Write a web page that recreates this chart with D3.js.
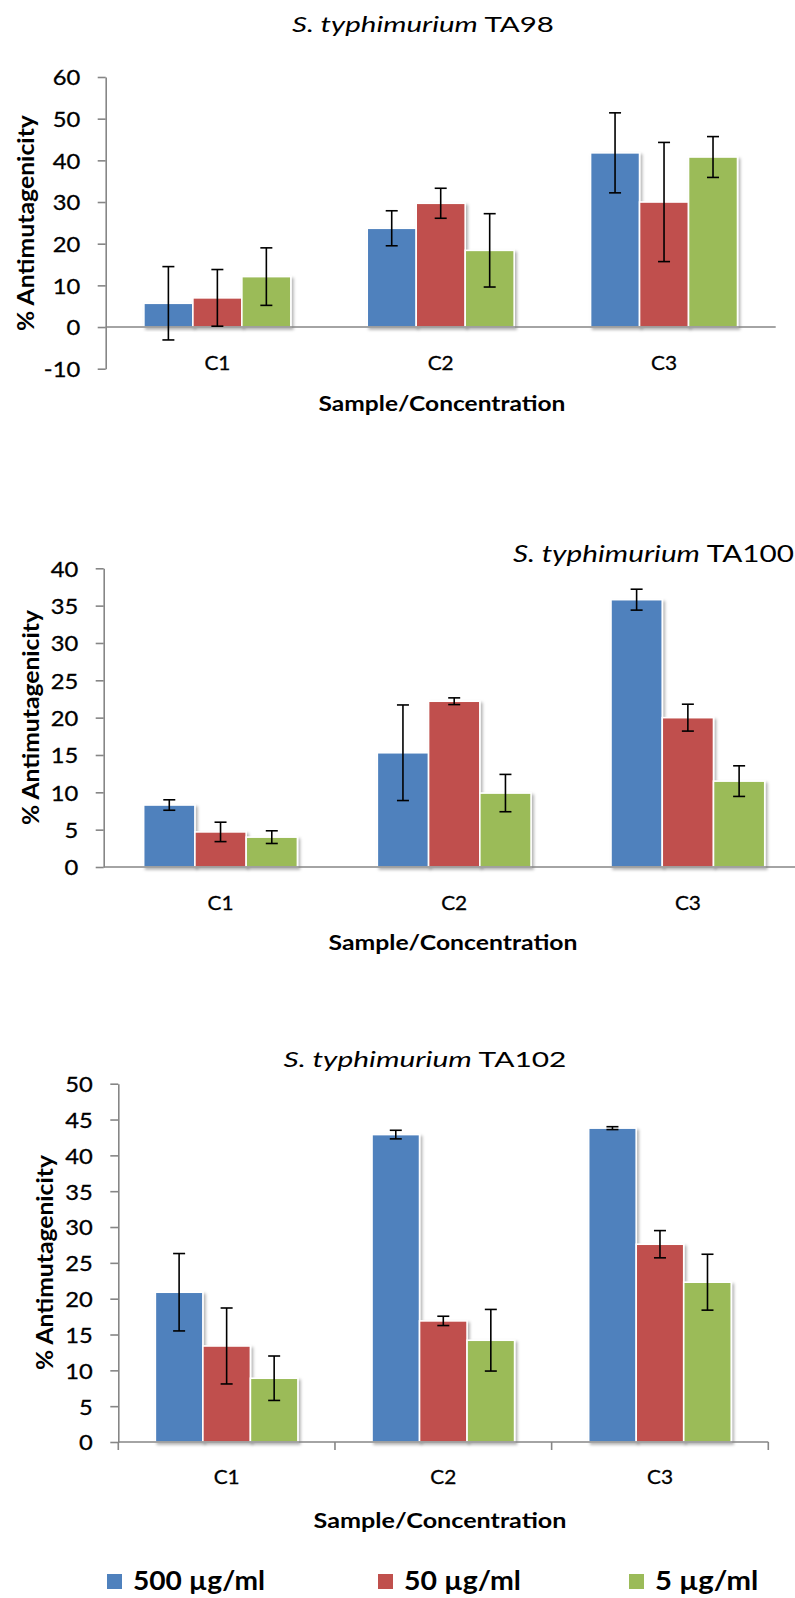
<!DOCTYPE html>
<html>
<head>
<meta charset="utf-8">
<script src="https://cdn.jsdelivr.net/npm/d3@7"></script>
<style>
body{margin:0;background:#fff}
svg{display:block}
text{font-family:Lato,"Open Sans",sans-serif;fill:#000}
text.reg{stroke:#000;stroke-width:0.3px}
</style>
</head>
<body>
<div class="chart"></div>
<script>
var categories = ["C1","C2","C3"];
var series = ["500 µg/ml","50 µg/ml","5 µg/ml"];
var colors = ["#4F81BD","#C0504D","#9BBB59"];

// one row per series, one value per category
var ta98Mean = [[5.7,23.7,41.8],[7.0,29.7,30.0],[12.1,18.4,40.8]];
var ta98Err  = [[8.8,4.2,9.6],[6.8,3.6,14.3],[6.9,8.8,4.9]];
var ta98Ticks = [-10,0,10,20,30,40,50,60];

var ta100Mean = [[8.3,15.3,35.8],[4.7,22.2,20.0],[4.0,9.9,11.5]];
var ta100Err  = [[0.7,6.4,1.4],[1.3,0.45,1.8],[0.85,2.5,2.05]];
var ta100Ticks = [0,5,10,15,20,25,30,35,40];

var ta102Mean = [[20.9,42.9,43.8],[13.4,16.9,27.6],[8.9,14.2,22.3]];
var ta102Err  = [[5.4,0.6,0.2],[5.3,0.65,1.9],[3.1,4.3,3.9]];
var ta102Ticks = [0,5,10,15,20,25,30,35,40,45,50];

var width = 795, height = 1598;
var axisColor = "#868686";

var svg = d3.select(".chart").append("svg").attr("width",width).attr("height",height)
svg.append("rect").attr("width",width).attr("height",height).attr("fill","#fff")

var defs = svg.append("defs")
var shadow = defs.append("filter").attr("id","shadow").attr("x","-20%").attr("y","-20%").attr("width","140%").attr("height","140%")
shadow.append("feDropShadow").attr("dx",2).attr("dy",2).attr("stdDeviation",1.6)
	.attr("flood-color","#000").attr("flood-opacity",0.3)

// stretch a text horizontally so it covers w pixels
function fit(t, w){
	var len = t.node().getComputedTextLength();
	t.attr("transform", (t.attr("transform") || "") + " scale(" + (w/len) + ",1)");
}

var panels = [
	{name:"TA98", mean:ta98Mean, err:ta98Err, ticks:ta98Ticks,
	 xr:[105.7,775.7], yr:[368.7,77], catTicks:false,
	 title:{x:423, y:32, size:22, w:262, anchor:"middle"},
	 ytitle:{x:33.5, y:223, w:216}, xtitle:{x:442, y:411, w:247},
	 catY:370},
	{name:"TA100", mean:ta100Mean, err:ta100Err, ticks:ta100Ticks,
	 xr:[103.7,804.7], yr:[867,568.3], catTicks:false,
	 title:{x:513, y:562, size:24, w:281, anchor:"start"},
	 ytitle:{x:39, y:717.5, w:215}, xtitle:{x:453, y:950, w:249},
	 catY:910},
	{name:"TA102", mean:ta102Mean, err:ta102Err, ticks:ta102Ticks,
	 xr:[118.3,768.3], yr:[1442,1083.7], catTicks:true,
	 title:{x:425, y:1067, size:22, w:283, anchor:"middle"},
	 ytitle:{x:53, y:1262.5, w:215}, xtitle:{x:440, y:1528, w:253},
	 catY:1484}
];

panels.forEach(function(p){
	var g = svg.append("g").attr("class","panel " + p.name)

	var y = d3.scaleLinear().domain([p.ticks[0], p.ticks[p.ticks.length-1]]).range(p.yr)
	var x0 = d3.scaleBand().domain(categories).range(p.xr).paddingInner(0.342).paddingOuter(0.171)
	var x1 = d3.scaleBand().domain(d3.range(series.length)).range([0, x0.bandwidth()])

	var rows = [];
	p.mean.forEach(function(vals, s){
		vals.forEach(function(v, c){
			rows.push({s:s, c:categories[c], v:v, e:p.err[s][c]})
		})
	})

	// bars
	g.append("g").selectAll("rect").data(rows).enter().append("rect")
	.attr("x",function(d){return x0(d.c) + x1(d.s)})
	.attr("width",x1.bandwidth())
	.attr("y",function(d){return y(Math.max(0,d.v))})
	.attr("height",function(d){return Math.abs(y(d.v) - y(0))})
	.attr("fill",function(d){return colors[d.s]})
	.attr("stroke","#fff")
	.attr("stroke-width",1.6)
	.attr("filter","url(#shadow)")

	// y axis
	var yAxis = d3.axisLeft(y).tickValues(p.ticks).tickSize(8).tickPadding(17.5).tickSizeOuter(0)
		.tickFormat(function(d){return String(d)})
	var ya = g.append("g").attr("transform","translate(" + p.xr[0] + ",0)").call(yAxis)
	ya.select(".domain").attr("stroke",axisColor).attr("stroke-width",1.6)
	ya.selectAll(".tick line").attr("stroke",axisColor).attr("stroke-width",1.6)
	ya.selectAll(".tick text").each(function(){
		var t = d3.select(this)
		var tx = +t.attr("x")
		t.attr("x",0).attr("dy","0.36em")
		.attr("transform","translate(" + tx + ",0) scale(1.08,1)")
	})
	.attr("class","reg")
	.style("font-size","22px").style("font-family","Lato").attr("fill","#000")

	// x axis line at zero
	var xa = g.append("g").attr("transform","translate(0," + y(0) + ")")
	xa.append("line").attr("x1",p.xr[0]).attr("x2",p.xr[1])
	.attr("stroke",axisColor).attr("stroke-width",1.6)
	if(p.catTicks){
		var edges = categories.map(function(c){return x0(c) - x0.step()*x0.paddingInner()/2})
		edges.push(p.xr[1])
		xa.selectAll("line.tick").data(edges).enter().append("line").attr("class","tick")
		.attr("x1",function(d){return d}).attr("x2",function(d){return d})
		.attr("y1",0).attr("y2",8)
		.attr("stroke",axisColor).attr("stroke-width",1.6)
	}

	// category labels
	g.append("g").selectAll("text").data(categories).enter().append("text")
	.attr("class","reg")
	.attr("text-anchor","middle")
	.attr("transform",function(d){return "translate(" + (x0(d) + x0.bandwidth()/2) + "," + p.catY + ")"})
	.style("font-size","20px")
	.text(function(d){return d})
	.each(function(){ fit(d3.select(this), 26) })

	// error bars
	var eb = g.append("g").selectAll("g").data(rows).enter().append("g")
	.attr("transform",function(d){return "translate(" + (x0(d.c) + x1(d.s) + x1.bandwidth()/2) + ",0)"})
	eb.append("line").attr("y1",function(d){return y(d.v + d.e)}).attr("y2",function(d){return y(d.v - d.e)})
	.attr("stroke","#000").attr("stroke-width",1.6)
	eb.append("line").attr("x1",-6).attr("x2",6)
	.attr("y1",function(d){return y(d.v + d.e)}).attr("y2",function(d){return y(d.v + d.e)})
	.attr("stroke","#000").attr("stroke-width",1.6)
	eb.append("line").attr("x1",-6).attr("x2",6)
	.attr("y1",function(d){return y(d.v - d.e)}).attr("y2",function(d){return y(d.v - d.e)})
	.attr("stroke","#000").attr("stroke-width",1.6)

	// title
	var title = g.append("text")
	.attr("text-anchor",p.title.anchor)
	.attr("transform","translate(" + p.title.x + "," + p.title.y + ")")
	.style("font-size",p.title.size + "px")
	title.append("tspan").style("font-style","italic").text("S. typhimurium")
	title.append("tspan").text(" " + p.name)
	fit(title, p.title.w)

	// axis titles
	var yt = g.append("text").attr("text-anchor","middle")
	.attr("transform","translate(" + p.ytitle.x + "," + p.ytitle.y + ") rotate(-90)")
	.style("font-size","23px").style("font-weight","bold")
	.text("% Antimutagenicity")
	fit(yt, p.ytitle.w)

	var xt = g.append("text").attr("text-anchor","middle")
	.attr("transform","translate(" + p.xtitle.x + "," + p.xtitle.y + ")")
	.style("font-size","21px").style("font-weight","bold")
	.text("Sample/Concentration")
	fit(xt, p.xtitle.w)
})

// legend
var legendX = [107, 378, 629];
var legendW = [132, 117, 103.4];
var lg = svg.append("g").attr("class","legend")
var items = lg.selectAll("g").data(series).enter().append("g")
.attr("transform",function(d,i){return "translate(" + legendX[i] + ",1574)"})
items.append("rect").attr("width",15).attr("height",15)
.attr("fill",function(d,i){return colors[i]})
items.append("text")
.attr("transform","translate(26,15.5)")
.style("font-size","26px").style("font-weight","bold")
.text(function(d){return d})
.each(function(d,i){ fit(d3.select(this), legendW[i]) })
</script>
</body>
</html>
